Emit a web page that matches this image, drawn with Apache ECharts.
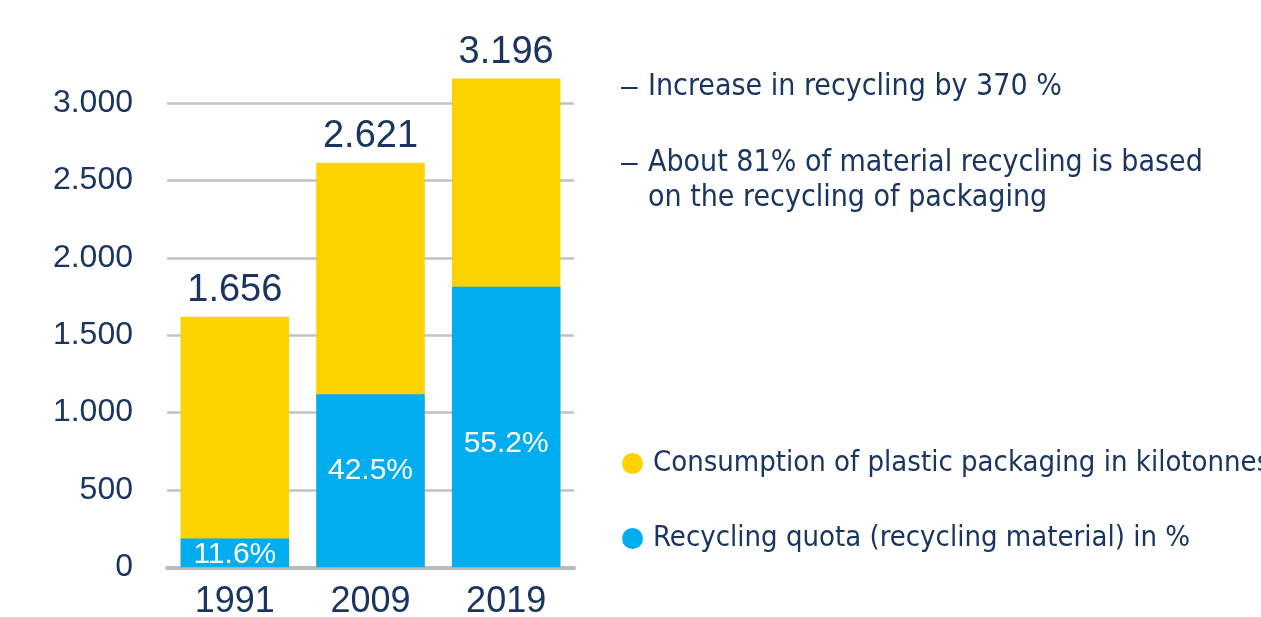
<!DOCTYPE html>
<html>
<head>
<meta charset="utf-8">
<script src="https://cdn.jsdelivr.net/npm/echarts@6/dist/echarts.min.js"></script>
<style>
html,body{margin:0;padding:0;background:#fff;}
#chart{width:1261px;height:617px;}
</style>
</head>
<body>
<div id="chart"></div>
<script>
var years = ['1991', '2009', '2019'];
var consumption = [1620, 2615, 3160];
var recycling = [187, 1119, 1814];
var totalLabels = ['1.656', '2.621', '3.196'];
var quotaLabels = ['11.6%', '42.5%', '55.2%'];
var quotaLabelOffsets = [2, -10, 17];
var yTicks = [0, 500, 1000, 1500, 2000, 2500, 3000];
var notes = ['–', 'Increase in recycling by 370 %', '–', 'About 81% of material recycling is based', 'on the recycling of packaging'];
var seriesNames = ['Consumption of plastic packaging in kilotonnes', 'Recycling quota (recycling material) in %'];
var seriesColors = ['#fcd200', '#00aeef'];

var navy = '#1a3660';
var narrow = "'DejaVu Sans Condensed', 'DejaVu Sans', sans-serif";

function fmtThousands(v) {
  return String(v).replace(/\B(?=(\d{3})+(?!\d))/g, '.');
}

var notePos = [[621, 88], [648, 87], [621, 164], [648, 163], [648, 198]];
var graphics = notes.map(function (t, i) {
  var isDash = t === '–';
  return {
    type: 'text', x: notePos[i][0], y: notePos[i][1],
    style: {
      text: t, fill: navy, verticalAlign: 'middle',
      font: isDash ? "30px 'Liberation Sans', sans-serif" : '30px ' + narrow
    }
  };
});

var chart = echarts.init(document.getElementById('chart'));
chart.setOption({
  animation: false,
  backgroundColor: '#fff',
  grid: { left: 167, right: 687, top: 103.3, bottom: 49.7, containLabel: false, outerBoundsMode: 'none' },
  xAxis: {
    type: 'category',
    data: years,
    axisLine: { show: true, lineStyle: { color: '#b9b9bd', width: 4 } },
    axisTick: { show: false },
    axisLabel: { color: navy, fontSize: 36, fontFamily: 'Liberation Sans', margin: 17 }
  },
  yAxis: {
    type: 'value',
    min: yTicks[0],
    max: yTicks[yTicks.length - 1],
    interval: 500,
    axisLine: { show: false },
    axisTick: { show: false },
    splitLine: { lineStyle: { color: '#c2c2c6', width: 2.5 } },
    axisLabel: {
      color: navy, fontSize: 32, fontFamily: 'Liberation Sans', margin: 34,
      formatter: fmtThousands
    }
  },
  legend: {
    orient: 'vertical',
    left: 622,
    top: 449,
    padding: 0,
    itemGap: 46,
    itemWidth: 21,
    itemHeight: 21,
    icon: 'circle',
    data: seriesNames,
    textStyle: { color: navy, fontSize: 29, fontFamily: narrow, padding: [0, 0, 0, 5] }
  },
  series: [
    {
      name: seriesNames[0],
      type: 'bar',
      data: consumption,
      clip: false,
      barWidth: '80%',
      barGap: '-100%',
      itemStyle: { color: seriesColors[0] },
      label: {
        show: true, position: 'top', distance: 7,
        color: navy, fontSize: 38, fontFamily: 'Liberation Sans',
        formatter: function (p) { return totalLabels[p.dataIndex]; }
      }
    },
    {
      name: seriesNames[1],
      type: 'bar',
      clip: false,
      data: recycling.map(function (v, i) {
        return { value: v, label: { offset: [0, quotaLabelOffsets[i]] } };
      }),
      barWidth: '80%',
      barGap: '-100%',
      itemStyle: { color: seriesColors[1] },
      label: {
        show: true, position: 'inside',
        color: '#fff', fontSize: 30, fontFamily: 'Liberation Sans',
        formatter: function (p) { return quotaLabels[p.dataIndex]; }
      }
    }
  ],
  graphic: graphics
});
</script>
</body>
</html>
